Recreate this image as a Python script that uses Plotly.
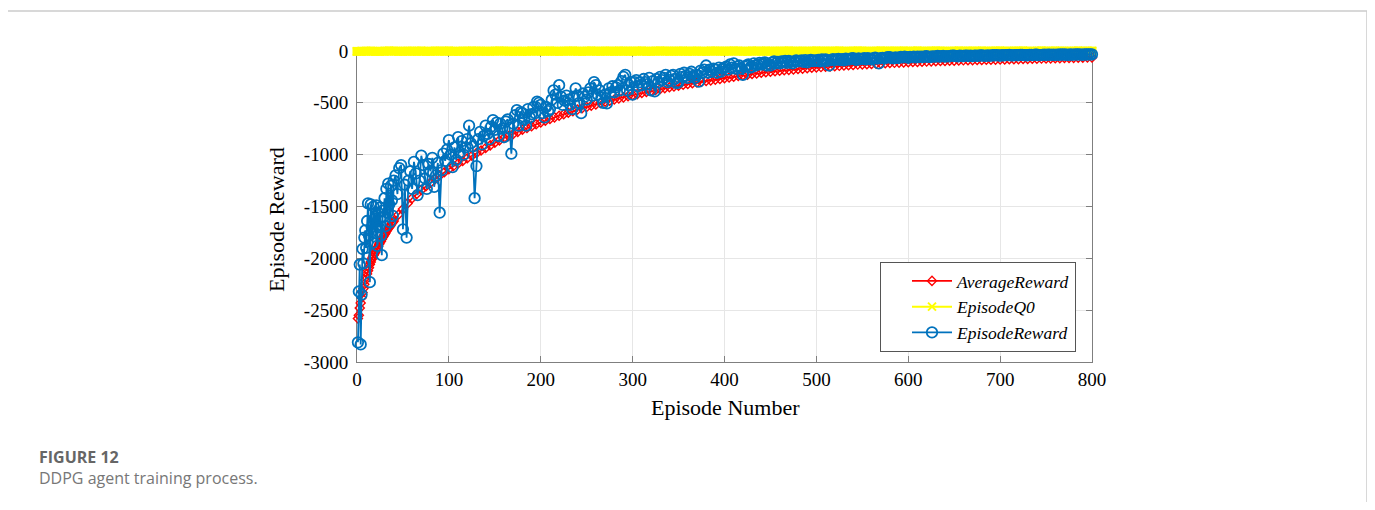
import plotly.graph_objects as go

# ---------------- data ----------------
# EpisodeReward: every episode for 1..40, then every 2nd episode
reward_episodes = list(range(1, 41)) + list(range(42, 801, 2))
episode_reward = [
    # episodes 1..40
    -2810, -2320, -2060, -2830, -2350, -1910, -2050, -1800, -1730, -1900,
    -1640, -1470, -1780, -2230, -1480, -1700, -1850, -1500, -1620, -1760,
    -1490, -1880, -1560, -1700, -1510, -1780, -1970, -1540, -1600, -1420,
    -1690, -1330, -1560, -1280, -1480, -1650, -1300, -1440, -1590, -1250,
    # episodes 42..800 step 2
    -1200, -1380, -1130, -1100, -1720, -1290, -1800, -1250, -1160, -1330,
    -1070, -1180, -1390, -1250, -1010, -1100, -1230, -1330, -1090, -1160,
    -1030, -1310, -1200, -1080, -1560, -1150, -990, -1060, -950, -860,
    -1000, -1120, -930, -1050, -830, -980, -870, -1000, -930, -850,
    -720, -890, -920, -1420, -1110, -850, -780, -900, -820, -720,
    -800, -850, -730, -666, -760, -690, -820, -700, -750, -830,
    -680, -660, -740, -990, -700, -620, -570, -720, -590, -600,
    -660, -720, -560, -640, -610, -540, -600, -489, -500, -520,
    -600, -640, -540, -580, -560, -470, -380, -420, -500, -330,
    -440, -520, -480, -430, -470, -520, -560, -440, -360, -430,
    -500, -600, -410, -440, -470, -400, -360, -430, -300, -330,
    -420, -380, -450, -500, -420, -505, -360, -400, -340, -400,
    -350, -330, -380, -290, -250, -230, -380, -330, -300, -420,
    -300, -280, -340, -300, -330, -270, -300, -320, -260, -380,
    -290, -390, -270, -300, -250, -280, -260, -230, -300, -280,
    -240, -230, -270, -310, -300, -220, -250, -210, -240, -260,
    -220, -200, -240, -260, -230, -295, -190, -210, -180, -140,
    -210, -180, -200, -170, -180, -210, -160, -200, -170, -160,
    -150, -180, -130, -160, -120, -170, -150, -140, -170, -230,
    -150, -140, -130, -160, -150, -120, -140, -130, -115, -130,
    -120, -110, -140, -125, -140, -110, -100, -120, -105, -120,
    -100, -110, -95, -115, -95, -105, -120, -100, -90, -100,
    -95, -90, -105, -88, -110, -92, -85, -98, -90, -95,
    -85, -100, -82, -92, -80, -95, -140, -88, -78, -85,
    -80, -75, -88, -78, -90, -74, -82, -80, -72, -70,
    -82, -85, -72, -78, -75, -68, -80, -70, -76, -80,
    -68, -65, -74, -120, -70, -66, -72, -64, -60, -60,
    -68, -70, -62, -66, -65, -58, -62, -55, -60, -65,
    -58, -60, -55, -62, -55, -58, -54, -60, -52, -50,
    -56, -58, -52, -55, -52, -48, -54, -50, -48, -55,
    -50, -52, -48, -45, -45, -50, -52, -46, -48, -48,
    -45, -44, -48, -46, -50, -44, -45, -47, -43, -42,
    -45, -47, -43, -44, -44, -41, -43, -40, -42, -45,
    -41, -42, -39, -40, -38, -42, -43, -39, -40, -40,
    -38, -37, -40, -41, -41, -37, -38, -39, -36, -36,
    -39, -40, -37, -36, -37, -35, -35, -38, -36, -38,
    -35, -36, -34, -35, -34, -36, -37, -34, -35, -35,
    -33, -34, -33, -35, -36, -33, -34, -32, -33, -32,
]

# AverageReward: every episode for 1..40, then every 5th episode
avg_episodes = list(range(1, 41)) + list(range(45, 801, 5))
average_reward = [
    # episodes 1..40
    -2580, -2550, -2480, -2430, -2380, -2330, -2290, -2250, -2210, -2180,
    -2150, -2120, -2090, -2060, -2035, -2010, -1990, -1970, -1955, -1940,
    -1920, -1900, -1885, -1865, -1850, -1835, -1815, -1800, -1785, -1770,
    -1755, -1740, -1725, -1712, -1700, -1688, -1675, -1662, -1650, -1640,
    # episodes 45..800 step 5
    -1580, -1525, -1470, -1420, -1380, -1340, -1305, -1270, -1235, -1200,
    -1170, -1140, -1110, -1085, -1060, -1035, -1010, -985, -960, -935,
    -910, -885, -862, -840, -820, -800, -780, -760, -742, -725,
    -707, -690, -672, -655, -640, -625, -610, -595, -580, -565,
    -552, -540, -527, -515, -502, -490, -479, -468, -457, -447,
    -437, -427, -416, -405, -395, -385, -376, -367, -358, -350,
    -342, -334, -326, -318, -311, -304, -297, -290, -283, -276,
    -269, -262, -255, -248, -241, -234, -228, -222, -216, -210,
    -205, -200, -195, -190, -186, -182, -178, -174, -170, -166,
    -162, -158, -155, -152, -149, -146, -143, -140, -137, -134,
    -131, -129, -127, -125, -122, -120, -118, -116, -114, -112,
    -110, -108, -106, -105, -103, -102, -100, -99, -97, -96,
    -94, -93, -92, -90, -89, -88, -87, -86, -85, -84,
    -83, -82, -81, -80, -79, -78, -77, -76, -75, -74,
    -73, -72, -71, -70, -69, -68, -67, -66, -65, -64,
    -63, -62,
]

# EpisodeQ0: every 5th episode, all at (or just below) 0
q0_episodes = list(range(0, 801, 5))
episode_q0 = [
    -4, -3, -2, -1, -4, -3, -2, 0, -1, -3,
    -2, -2, -1, -3, 0, -4, -2, -1, -1, -2,
    0, -3, -3, -1, -2, 0, -2, -1, -3, -2,
    -1, 0, -1, -2, -3, -1, -3, -2, 0, -1,
    -1, -2, 0, -2, -3, -1, -1, 0, -2, -3,
    -1, 0, -2, -2, -1, -1, -3, 0, -2, -1,
    -2, -1, 0, -3, -2, -1, 0, -1, -2, -1,
    -2, 0, -3, -1, -1, -2, -3, 0, -1, -1,
    -2, -1, 0, -1, -2, -3, 0, -1, -2, 0,
    -3, -1, -2, -1, 0, -2, -2, -1, -3, -1,
    0, -2, -1, -2, -1, 0, -3, -2, -1, 0,
    -1, -2, -3, -1, 0, -2, -1, -1, -2, 0,
    -3, -1, 0, -2, -2, -1, 0, -1, -2, -3,
    -1, 0, -2, -1, -1, -2, 0, -3, -1, -1,
    0, -2, -2, -1, -1, 0, -2, -3, -1, 0,
    -1, -2, 0, -2, -1, -3, -1, 0, -2, -1,
    -1,
]

x_ticks = [0, 100, 200, 300, 400, 500, 600, 700, 800]
y_ticks = [0, -500, -1000, -1500, -2000, -2500, -3000]

# ---------------- figure ----------------
OFF = 8                     # page body margin of the html page
W, H = 1375 - 2 * OFF, 510 - 2 * OFF
L, R, T, B = 357, 1092, 51, 362   # plot-area pixel box in the screenshot

def px(x):
    return (x - L) / (R - L)

def py(y):
    return (B - y) / (B - T)

SERIF = "Liberation Serif, Times New Roman, serif"
YELLOW = "#FFFF00"
fig = go.Figure()

# wide band of the Q0 curve (no legend entry)
fig.add_trace(go.Scatter(
    x=q0_episodes, y=episode_q0, mode="markers", showlegend=False, hoverinfo="skip",
    marker=dict(symbol="square", size=9, color=YELLOW, line=dict(width=0)),
    cliponaxis=False,
))
fig.add_trace(go.Scatter(
    x=avg_episodes, y=average_reward, name="AverageReward",
    mode="lines+markers",
    line=dict(color="#FF0000", width=1.6),
    marker=dict(symbol="diamond-open", size=7, color="#FF0000", line=dict(width=1.4)),
    cliponaxis=False,
))
fig.add_trace(go.Scatter(
    x=q0_episodes, y=episode_q0, name="EpisodeQ0",
    mode="lines+markers",
    line=dict(color=YELLOW, width=2),
    marker=dict(symbol="x-thin-open", size=8, color=YELLOW, line=dict(width=2, color=YELLOW)),
    cliponaxis=False,
))
fig.add_trace(go.Scatter(
    x=reward_episodes, y=episode_reward, name="EpisodeReward",
    mode="lines+markers",
    line=dict(color="#0072BD", width=1.8),
    marker=dict(symbol="circle-open", size=10.5, color="#0072BD", line=dict(width=1.8)),
    cliponaxis=False,
))

axis_common = dict(
    showline=True, linecolor="#7f7f7f", linewidth=1, mirror="ticks",
    ticks="inside", ticklen=6, tickcolor="#7f7f7f",
    showgrid=True, gridcolor="#e6e6e6", gridwidth=1,
    zeroline=False, layer="below traces",
    tickfont=dict(family=SERIF, size=19, color="#000000"),
)

fig.update_xaxes(range=[0, 800], tickvals=x_ticks, ticktext=[str(v) for v in x_ticks],
                 **axis_common)
fig.update_yaxes(range=[-3000, 0], tickvals=y_ticks, ticktext=[str(v) for v in y_ticks],
                 ticklabelstandoff=4, **axis_common)

annotations = [
    dict(text="Episode Number", x=px(725), y=py(407), xref="paper", yref="paper",
         showarrow=False, xanchor="center", yanchor="middle",
         font=dict(family=SERIF, size=22, color="#000000")),
    dict(text="Episode Reward", x=px(276), y=py(220), xref="paper", yref="paper",
         showarrow=False, xanchor="center", yanchor="middle", textangle=-90,
         font=dict(family=SERIF, size=22, color="#000000")),
    dict(text="<b>FIGURE 12</b>", x=px(37), y=py(457), xref="paper", yref="paper",
         showarrow=False, xanchor="left", yanchor="middle",
         font=dict(family="Open Sans, Lato, sans-serif", size=16, color="#666666")),
    dict(text="DDPG agent training process.", x=px(37), y=py(478), xref="paper", yref="paper",
         showarrow=False, xanchor="left", yanchor="middle",
         font=dict(family="Open Sans, Lato, sans-serif", size=16, color="#777777")),
]

shapes = [
    dict(type="rect", xref="paper", yref="paper",
         x0=px(6), x1=px(1367), y0=py(540), y1=py(11),
         line=dict(color="#cccccc", width=1.5), fillcolor="rgba(0,0,0,0)", layer="below"),
]

fig.update_layout(
    width=W, height=H,
    margin=dict(l=L - OFF, r=(1375 - OFF) - R, t=T - OFF, b=(510 - OFF) - B, pad=0),
    paper_bgcolor="#ffffff", plot_bgcolor="#ffffff",
    showlegend=True,
    legend=dict(
        x=px(880), y=py(262), xanchor="left", yanchor="top",
        bgcolor="#ffffff", bordercolor="#555555", borderwidth=1,
        font=dict(family=SERIF, size=17.5, color="#000000", style="italic"),
        itemwidth=40, tracegroupgap=0, indentation=26,
    ),
    annotations=annotations,
    shapes=shapes,
)

fig.write_html("out.html")
